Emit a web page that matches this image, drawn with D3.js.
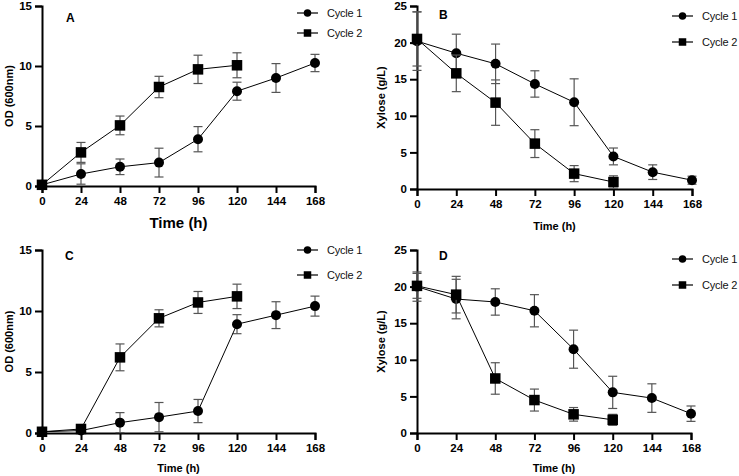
<!DOCTYPE html>
<html>
<head>
<meta charset="utf-8">
<script src="https://cdn.jsdelivr.net/npm/d3@7"></script>
<style>
  body { margin: 0; background: #fff; }
  svg { display: block; font-family: "Liberation Sans", Arial, sans-serif; }
</style>
</head>
<body>
<svg id="chart" width="739" height="476"></svg>
<script>
const hours = [0, 24, 48, 72, 96, 120, 144, 168];

// OD (600nm), first run
const odA1 = [0.1, 1.0, 1.6, 1.95, 3.9, 7.9, 9.0, 10.25];
const odA1Err = [0.1, 0.85, 0.65, 1.2, 1.05, 0.75, 1.2, 0.72];
const odA2 = [0.1, 2.8, 5.05, 8.25, 9.72, 10.06];
const odA2Err = [0.1, 0.83, 0.78, 0.89, 1.18, 1.04];

// Xylose (g/L), first run
const xyB1 = [20.2, 18.55, 17.1, 14.35, 11.85, 4.45, 2.3, 1.2];
const xyB1Err = [4.0, 2.6, 2.7, 1.8, 3.2, 1.15, 1.0, 0.55];
const xyB2 = [20.5, 15.8, 11.8, 6.2, 2.1, 0.95];
const xyB2Err = [3.7, 2.5, 3.1, 1.9, 1.1, 0.85];

// OD (600nm), second run
const odC1 = [0.1, 0.2, 0.85, 1.3, 1.8, 8.92, 9.66, 10.4];
const odC1Err = [0.1, 0.1, 0.82, 1.2, 0.95, 0.78, 1.1, 0.82];
const odC2 = [0.1, 0.33, 6.2, 9.4, 10.7, 11.2];
const odC2Err = [0.1, 0.1, 1.1, 0.7, 0.9, 1.0];

// Xylose (g/L), second run
const xyD1 = [20.0, 18.3, 17.9, 16.7, 11.45, 5.55, 4.77, 2.64];
const xyD1Err = [2.0, 2.7, 1.8, 2.2, 2.6, 2.2, 1.95, 1.05];
const xyD2 = [20.1, 18.9, 7.45, 4.5, 2.55, 1.8];
const xyD2Err = [1.7, 2.5, 2.15, 1.5, 0.93, 0.75];

const seriesNames = ['Cycle 1', 'Cycle 2'];

const panels = [
  { tag: 'A', yTitle: 'OD (600nm)', yMax: 15, yTicks: [0, 5, 10, 15],
    x0: 42, x1: 315, yTop: 6, yBot: 186, xTitleY: 228, xTitleSize: 15,
    legX: 297, legY: 13, legGap: 20, tagX: 66, tagY: 22, yTitleOff: 29,
    s1: odA1, e1: odA1Err, s2: odA2, e2: odA2Err },
  { tag: 'B', yTitle: 'Xylose (g/L)', yMax: 25, yTicks: [0, 5, 10, 15, 20, 25],
    x0: 417, x1: 692, yTop: 6, yBot: 189, xTitleY: 230, xTitleSize: 11,
    legX: 672, legY: 16, legGap: 26, tagX: 439, tagY: 19, yTitleOff: 32,
    s1: xyB1, e1: xyB1Err, s2: xyB2, e2: xyB2Err },
  { tag: 'C', yTitle: 'OD (600nm)', yMax: 15, yTicks: [0, 5, 10, 15],
    x0: 42, x1: 315, yTop: 250, yBot: 433, xTitleY: 472, xTitleSize: 11,
    legX: 297, legY: 250, legGap: 25, tagX: 65, tagY: 260, yTitleOff: 29,
    s1: odC1, e1: odC1Err, s2: odC2, e2: odC2Err },
  { tag: 'D', yTitle: 'Xylose (g/L)', yMax: 25, yTicks: [0, 5, 10, 15, 20, 25],
    x0: 417, x1: 691, yTop: 250, yBot: 433, xTitleY: 472, xTitleSize: 11,
    legX: 672, legY: 259, legGap: 26, tagX: 439, tagY: 260, yTitleOff: 32,
    s1: xyD1, e1: xyD1Err, s2: xyD2, e2: xyD2Err },
];

const svg = d3.select('#chart');

function marker(sel, kind, size) {
  if (kind === 0) {
    sel.append('circle').attr('r', size / 2).attr('fill', '#000');
  } else {
    sel.append('rect').attr('x', -size / 2).attr('y', -size / 2)
      .attr('width', size).attr('height', size).attr('fill', '#000');
  }
}

panels.forEach(p => {
  const x = d3.scaleLinear().domain([0, 168]).range([p.x0, p.x1]);
  const y = d3.scaleLinear().domain([0, p.yMax]).range([p.yBot, p.yTop]);
  const g = svg.append('g');

  const xAxis = g.append('g').attr('transform', `translate(0,${p.yBot})`)
    .call(d3.axisBottom(x).tickValues(hours).tickSize(7).tickPadding(4));
  const yAxis = g.append('g').attr('transform', `translate(${p.x0},0)`)
    .call(d3.axisLeft(y).tickValues(p.yTicks).tickSize(7).tickPadding(3));
  [xAxis, yAxis].forEach(a => {
    a.select('.domain').attr('stroke', '#000').attr('stroke-width', 2);
    a.selectAll('.tick line').attr('stroke', '#000').attr('stroke-width', 2);
    a.selectAll('.tick text').attr('fill', '#000').attr('font-size', 11.5)
      .attr('font-weight', 'bold').attr('font-family', '"Liberation Sans", Arial, sans-serif');
  });

  g.append('text')
    .attr('x', (p.x0 + p.x1) / 2).attr('y', p.xTitleY)
    .attr('text-anchor', 'middle').attr('font-weight', 'bold')
    .attr('font-size', p.xTitleSize).text('Time (h)');

  g.append('text')
    .attr('transform', `translate(${p.x0 - p.yTitleOff},${(p.yTop + p.yBot) / 2}) rotate(-90)`)
    .attr('text-anchor', 'middle').attr('font-weight', 'bold')
    .attr('font-size', 11).text(p.yTitle);

  g.append('text').attr('x', p.tagX).attr('y', p.tagY)
    .attr('font-weight', 'bold').attr('font-size', 12).text(p.tag);

  const series = [[p.s1, p.e1], [p.s2, p.e2]];
  const line = d3.line().x((d, i) => x(hours[i])).y(d => y(d));

  series.forEach(([vals, errs], k) => {
    const sg = g.append('g');
    // error bars
    vals.forEach((v, i) => {
      const cx = x(hours[i]);
      const hi = y(v + errs[i]), lo = y(Math.max(0, v - errs[i]));
      const eb = sg.append('g').attr('stroke', '#555').attr('stroke-width', 1.2);
      eb.append('line').attr('x1', cx).attr('x2', cx).attr('y1', hi).attr('y2', lo);
      eb.append('line').attr('x1', cx - 4.5).attr('x2', cx + 4.5).attr('y1', hi).attr('y2', hi);
      eb.append('line').attr('x1', cx - 4.5).attr('x2', cx + 4.5).attr('y1', lo).attr('y2', lo);
    });
    sg.append('path').datum(vals).attr('d', line)
      .attr('fill', 'none').attr('stroke', '#000').attr('stroke-width', 1);
    vals.forEach((v, i) => {
      const m = sg.append('g').attr('transform', `translate(${x(hours[i])},${y(v)})`);
      marker(m, k, k === 0 ? 10 : 10.5);
    });
  });

  // legend
  seriesNames.forEach((name, k) => {
    const ly = p.legY + k * p.legGap;
    const lg = g.append('g').attr('transform', `translate(${p.legX},${ly})`);
    lg.append('line').attr('x1', 0).attr('x2', 21).attr('y1', 0).attr('y2', 0)
      .attr('stroke', '#000').attr('stroke-width', 1.2);
    const m = lg.append('g').attr('transform', 'translate(10.5,0)');
    marker(m, k, 7.5);
    lg.append('text').attr('x', 30).attr('y', 4.2)
      .attr('font-size', 11).attr('letter-spacing', -0.2)
      .attr('fill', '#111').text(name);
  });
});
</script>
</body>
</html>
